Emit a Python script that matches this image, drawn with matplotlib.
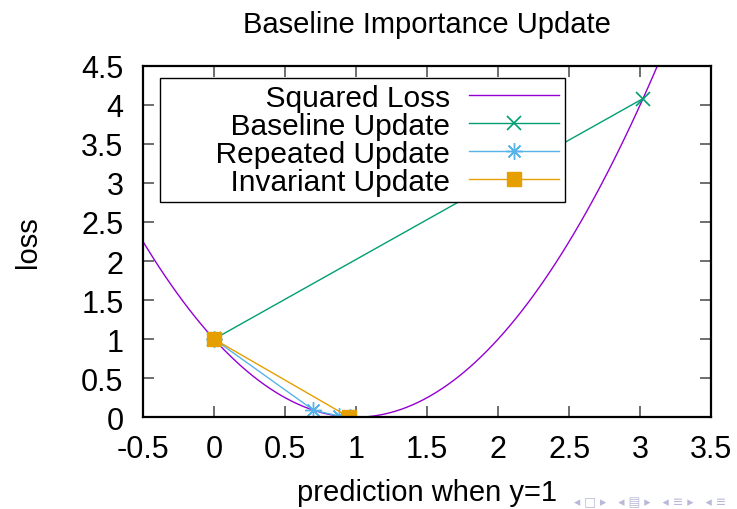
import numpy as np
import matplotlib
matplotlib.use("Agg")
import matplotlib.pyplot as plt

# data
y_label = 1.0
repeated_p = [0.0, 0.7, 0.88, 0.96]
baseline_p = [0.0, 3.02]
invariant_p = [0.0, 0.95]
x_ticks = [-0.5, 0, 0.5, 1, 1.5, 2, 2.5, 3, 3.5]
y_ticks = [0, 0.5, 1, 1.5, 2, 2.5, 3, 3.5, 4, 4.5]


def sq_loss(p, y=y_label):
    p = np.asarray(p, dtype=float)
    return (p - y) ** 2


plt.rcParams['font.family'] = ['Liberation Sans', 'DejaVu Sans']

fig = plt.figure(figsize=(7.37, 5.10), dpi=100)
ax = fig.add_axes([0.194, 0.180, 0.771, 0.689])

xs = np.linspace(-0.5, 3.5, 100)
ax.plot(xs, sq_loss(xs), color='#9400d3', lw=1, label='Squared Loss')
ax.plot(baseline_p, sq_loss(baseline_p), color='#009e73', lw=1,
        marker='x', ms=10, mew=1.2, label='Baseline Update')
ax.plot(repeated_p, sq_loss(repeated_p), color='#56b4e9', lw=1,
        marker=(8, 2, 0), ms=12, mew=1.0, label='Repeated Update')
ax.plot(invariant_p, sq_loss(invariant_p), color='#e69f00', lw=1,
        marker='s', ms=10.5, label='Invariant Update')

ax.set_xlim(-0.5, 3.5)
ax.set_ylim(0, 4.5)
ax.set_xticks(x_ticks)
ax.set_xticklabels([f'{v:g}' for v in x_ticks])
ax.set_yticks(y_ticks)
ax.set_yticklabels([f'{v:g}' for v in y_ticks])
ax.tick_params(direction='in', length=8, width=1.2, color='#555555',
               top=True, right=True, labelsize=22)
ax.tick_params(axis='x', pad=12)
ax.tick_params(axis='y', pad=14)
for s in ax.spines.values():
    s.set_linewidth(1.6)

ax.set_xlabel('prediction when y=1', fontsize=21, labelpad=10)
ax.set_ylabel('loss', fontsize=21, labelpad=28)
ax.set_title('Baseline Importance Update', fontsize=21, pad=24)

pad = '      '
leg = ax.legend(loc='upper left', bbox_to_anchor=(0.03, 0.966),
                labels=[pad + t for t in ['Squared Loss', 'Baseline Update',
                                          'Repeated Update', 'Invariant Update']],
                markerfirst=False, fontsize=21.5, handlelength=3.0,
                fancybox=False, framealpha=1, edgecolor='black',
                borderpad=0.2, labelspacing=0.0, handletextpad=0.65,
                borderaxespad=0)
leg.get_frame().set_linewidth(1.0)

# beamer navigation symbols
fig.text(0.985, 0.002, '\u25C2 \u25A1 \u25B8   \u25C2 \u25A4 \u25B8   \u25C2 \u2261 \u25B8   \u25C2 \u2261',
         ha='right', va='bottom', fontsize=9, color='#b8b8d8',
         family=['DejaVu Sans'])

fig.savefig('out.png', dpi=100)
